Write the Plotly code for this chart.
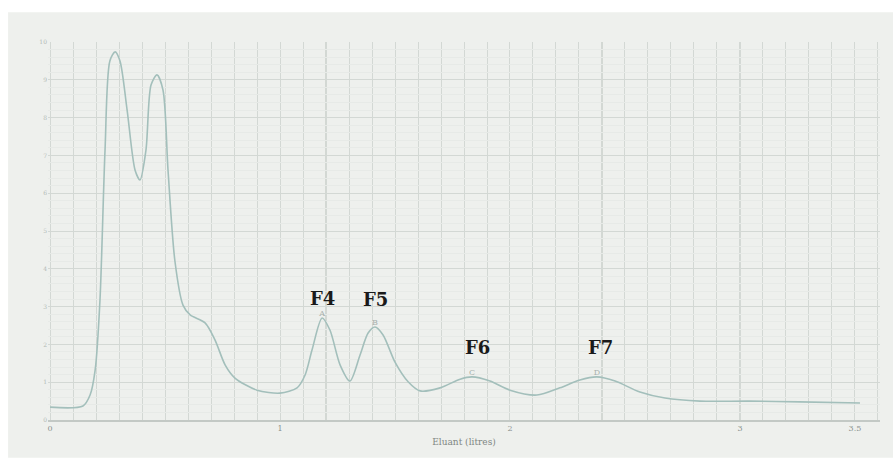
import plotly.graph_objects as go

# Elution volume (litres) and detector response (arbitrary %)
eluant = [0.00, 0.143, 0.174, 0.196, 0.217, 0.239, 0.26, 0.283, 0.304, 0.335, 0.37,
          0.391, 0.417, 0.439, 0.465, 0.491, 0.513, 0.543, 0.578, 0.609, 0.674,
          0.717, 0.761, 0.804, 0.9, 1.0, 1.074, 1.109, 1.139, 1.183, 1.217, 1.261,
          1.304, 1.348, 1.383, 1.413, 1.448, 1.5, 1.557, 1.609, 1.696, 1.783,
          1.835, 1.913, 2.0, 2.117, 2.217, 2.304, 2.378, 2.457, 2.565, 2.674,
          2.826, 3.043, 3.261, 3.522]
response = [3.4, 3.7, 6.6, 13.2, 31.7, 71.4, 95.0, 97.4, 95.0, 82.0, 66.0,
            63.5, 71.4, 88.6, 91.3, 87.3, 66.0, 42.0, 30.4, 27.8, 25.7,
            21.2, 14.6, 11.1, 7.9, 7.1, 8.5, 11.9, 18.5, 27.0, 23.8, 14.6,
            10.3, 17.2, 23.0, 24.6, 22.5, 15.3, 10.1, 7.7, 8.5, 10.8,
            11.4, 10.3, 7.9, 6.6, 8.5, 10.6, 11.4, 10.3, 7.4, 5.8,
            5.0, 5.0, 4.8, 4.5]

fraction_labels = ["F4", "F5", "F6", "F7"]
peak_letters = ["A", "B", "C", "D"]
peak_x = [1.183, 1.413, 1.835, 2.378]
peak_y = [27.0, 24.6, 11.4, 11.4]

x_tick_vals = [0, 1, 2, 3, 3.5]
x_tick_text = ["0", "1", "2", "3", "3.5"]
y_tick_vals = [0, 10, 20, 30, 40, 50, 60, 70, 80, 90, 100]

paper_col = "#eef0ed"
grid_col = "#d3d8d4"
minor_col = "#e7eae7"
curve_col = "#a3bfbb"

fig = go.Figure()

fig.add_trace(go.Scatter(
    x=eluant, y=response, mode="lines",
    line=dict(color=curve_col, width=1.6, shape="spline", smoothing=0.8),
    hoverinfo="skip", showlegend=False,
))

# small letters on the peaks
fig.add_trace(go.Scatter(
    x=peak_x, y=peak_y, mode="text", text=peak_letters,
    textposition="top center",
    textfont=dict(family="DejaVu Serif", size=8, color="#a8b0ac"),
    hoverinfo="skip", showlegend=False,
))

# fraction labels
label_offsets = [19, 28, 29, 29]
label_xshift = [0, 0, 5, 4]
for lab, px, py, off, xs in zip(fraction_labels, peak_x, peak_y, label_offsets, label_xshift):
    fig.add_annotation(
        x=px, y=py, text="<b>" + lab + "</b>", showarrow=False,
        yshift=off, xshift=xs,
        font=dict(family="DejaVu Serif", size=18, color="#1a1a1a"),
    )

# photographed paper area
fig.add_shape(type="rect", xref="paper", yref="paper",
              x0=-0.048, x1=1.02, y0=-0.10, y1=1.079,
              fillcolor=paper_col, line=dict(width=0), layer="below")

# darker chart-paper section lines
for xv in [1.2, 2.4, 3.0]:
    fig.add_shape(type="line", xref="x", yref="paper", x0=xv, x1=xv, y0=0, y1=1,
                  line=dict(color="#c3c9c5", width=1.3), layer="below")

fig.update_layout(
    width=893, height=460,
    margin=dict(l=48, r=13, t=42, b=40),
    paper_bgcolor="white",
    plot_bgcolor=paper_col,
    font=dict(family="DejaVu Serif", color="#8a918d"),
    xaxis=dict(
        range=[-0.009, 3.609],
        tickmode="array", tickvals=x_tick_vals, ticktext=x_tick_text,
        tickfont=dict(size=8, color="#8a918d"),
        showgrid=False, zeroline=False,
        showline=True, linecolor="#c3c9c5", linewidth=1.5,
        ticks="", ticklabelstandoff=0,
        minor=dict(dtick=0.1, tick0=0, showgrid=True, gridcolor=grid_col, gridwidth=1),
        title=dict(text="Eluant (litres)", font=dict(size=9, color="#7f8783"), standoff=6),
    ),
    yaxis=dict(
        range=[0, 100],
        tickmode="array", tickvals=y_tick_vals,
        ticktext=[str(v // 10) for v in y_tick_vals],
        tickfont=dict(size=6, color="#b3bab6"),
        showgrid=True, gridcolor=grid_col, gridwidth=1,
        zeroline=False, showline=False, ticks="",
        minor=dict(dtick=2, showgrid=True, gridcolor=minor_col, gridwidth=0.5),
    ),
)

fig.write_html("out.html")
